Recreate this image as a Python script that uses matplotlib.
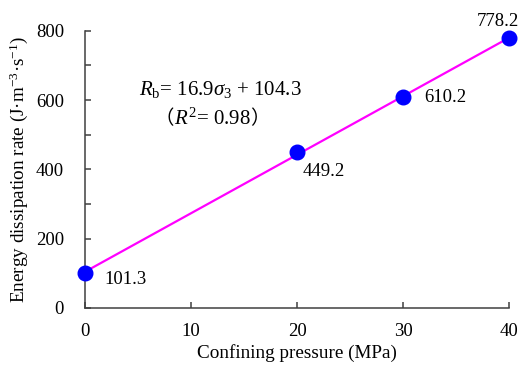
"""
Energy dissipation rate versus confining pressure, with linear fit
"""

import numpy as np
import matplotlib
matplotlib.use('Agg')
import matplotlib.pyplot as plt
from matplotlib.ticker import MultipleLocator

# data
pressure = [0, 20, 30, 40]
dissipation = [101.3, 449.2, 610.2, 778.2]
point_labels = ['101.3', '449.2', '610.2', '778.2']
fit_slope = 16.9
fit_intercept = 104.3
fit_r2 = 0.98
x_ticks = [0, 10, 20, 30, 40]
y_ticks = [0, 200, 400, 600, 800]

plt.rcParams['font.family'] = ['Liberation Serif', 'Noto Sans CJK SC']
plt.rcParams['mathtext.fontset'] = 'custom'
plt.rcParams['mathtext.rm'] = 'Liberation Serif'
plt.rcParams['mathtext.it'] = 'Liberation Serif:italic'
plt.rcParams['mathtext.bf'] = 'Liberation Serif:bold'

fig = plt.figure(figsize=(5.18, 3.67), dpi=100)
ax = fig.add_axes([0.164, 0.161, 0.819, 0.755])

# fitted line
x_fit = np.array([pressure[0], pressure[-1]])
ax.plot(x_fit, fit_slope * x_fit + fit_intercept, color='#ff00ff', lw=1.6,
        zorder=2, clip_on=False)

# measured points
ax.plot(pressure, dissipation, 'o', color='#0000ff', ms=10.5, zorder=3,
        clip_on=False)

# value labels next to points (offsets in points)
offsets = [(14, -5), (4, -14), (15, -1), (-8, 12)]
aligns = [('left', 'center'), ('left', 'center'), ('left', 'center'),
          ('center', 'center')]
for x, y, lab, off, (ha, va) in zip(pressure, dissipation, point_labels,
                                     offsets, aligns):
    ax.annotate(lab, (x, y), xytext=off, textcoords='offset points',
                ha=ha, va=va, fontsize=13.5, annotation_clip=False)

# fit equation
ax.text(0.318, 0.787,
        r'$R_{\mathrm{b}}$= %.1f$\sigma_3$ + %.1f' % (fit_slope, fit_intercept),
        transform=ax.transAxes, ha='center', va='center', fontsize=15)
r2_txt = ax.text(0.30, 0.682, '$R^2$= %.2f' % fit_r2,
                 transform=ax.transAxes, ha='center', va='center',
                 fontsize=15)
ax.annotate('（', xy=(0, 0.5), xycoords=r2_txt, ha='right', va='center',
            fontsize=14, family=['Noto Sans CJK SC'])
ax.annotate('）', xy=(1, 0.5), xycoords=r2_txt, ha='left', va='center',
            fontsize=14, family=['Noto Sans CJK SC'])

ax.set_xlim(0, 40)
ax.set_ylim(0, 800)
ax.set_xticks(x_ticks)
ax.set_yticks(y_ticks)
ax.yaxis.set_minor_locator(MultipleLocator(100))

for side in ['top', 'right']:
    ax.spines[side].set_visible(False)
for side in ['left', 'bottom']:
    ax.spines[side].set_color('#404040')
    ax.spines[side].set_linewidth(1.1)

ax.tick_params(axis='y', which='both', direction='in', length=4.5,
               width=1.1, color='#404040', labelsize=13.5, pad=15)
ax.tick_params(axis='x', which='both', direction='in', length=4.5,
               width=1.1, color='#404040', labelsize=13.5, pad=11)

ax.set_xlabel('Confining pressure (MPa)', fontsize=13.8, labelpad=3)
ax.set_ylabel(r'Energy dissipation rate (J·m$^{-3}$·s$^{-1}$)',
              fontsize=13.8, labelpad=4)

fig.savefig('out.png', dpi=100)
